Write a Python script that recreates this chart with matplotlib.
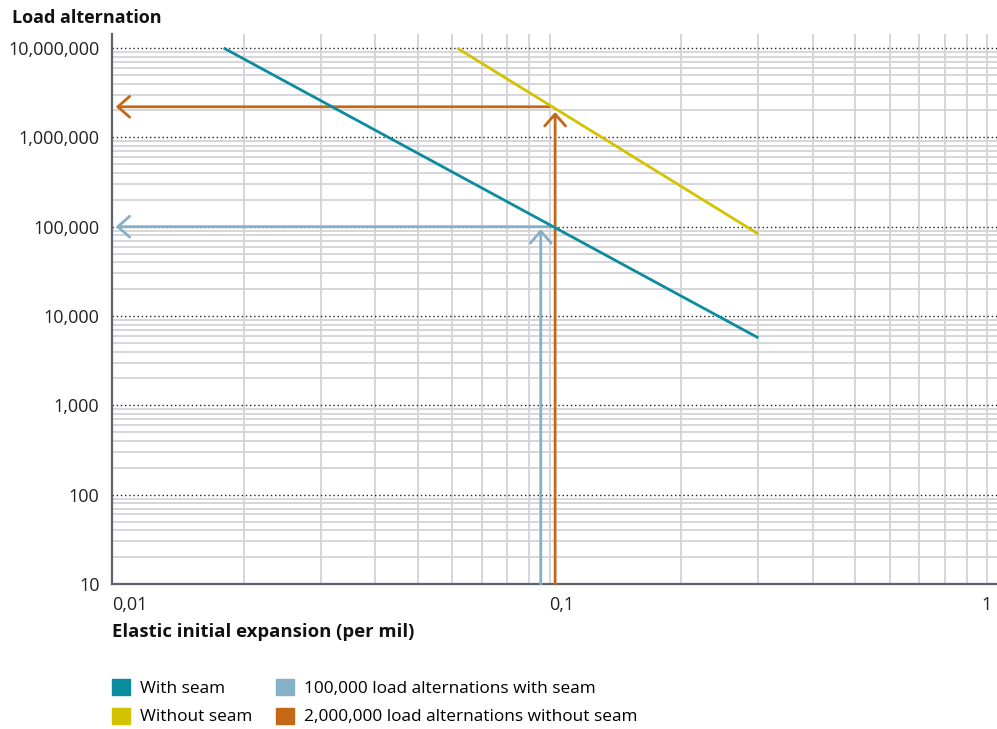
import matplotlib
matplotlib.use("Agg")
import matplotlib.pyplot as plt
from matplotlib.patches import Patch
from matplotlib.ticker import LogLocator, FixedLocator, NullFormatter

plt.rcParams['font.family'] = ['Open Sans', 'DejaVu Sans']

# lines
with_seam_x = [0.018, 0.3]
with_seam_y = [1e7, 5700]
without_seam_x = [0.0615, 0.3]
without_seam_y = [1e7, 83000]

# reading arrows
seam_read_x = 0.0955      # vertical arrow, light blue
seam_read_y = 1e5         # horizontal arrow, light blue
seam_cross_x = 0.101
seam_tip_y = 94000
noseam_read_x = 0.103     # vertical arrow, orange
noseam_read_y = 2.2e6     # horizontal arrow, orange
noseam_cross_x = 0.1
noseam_tip_y = 1.92e6
arrow_left_x = 0.0102

x_ticks = [0.01, 0.1, 1]
x_labels = ['0,01', '0,1', '1']
y_ticks = [10, 100, 1000, 10000, 100000, 1000000, 10000000]
y_labels = ['10', '100', '1,000', '10,000', '100,000', '1,000,000', '10,000,000']

teal = '#0a8c9e'
yellow = '#d4c200'
lightblue = '#86b0c8'
orange = '#c46816'
grid_gray = '#d3d3d8'
spine = '#5d6470'

W, H = 997, 729
fig = plt.figure(figsize=(W / 100, H / 100), dpi=100)
ax = fig.add_axes([112 / W, (H - 584) / H, (W - 112) / W, (584 - 34) / H])
ax.set_xscale('log')
ax.set_yscale('log')
ax.set_xlim(0.01, 1.054)
ax.set_ylim(10, 10 ** 7.157)

# grid
ax.xaxis.set_minor_locator(LogLocator(base=10, subs=range(2, 10)))
ax.yaxis.set_minor_locator(LogLocator(base=10, subs=range(2, 10)))
ax.xaxis.set_minor_formatter(NullFormatter())
ax.yaxis.set_minor_formatter(NullFormatter())
ax.grid(True, which='minor', axis='both', color=grid_gray, lw=1.3, zorder=0)
ax.grid(True, which='major', axis='x', color=grid_gray, lw=1.3, zorder=0)
ax.grid(True, which='major', axis='y', color='#222222', lw=1.0, ls=(0, (1, 2)), zorder=1)
ax.set_axisbelow(True)

ax.xaxis.set_major_locator(FixedLocator(x_ticks))
ax.set_xticklabels(x_labels)
ax.yaxis.set_major_locator(FixedLocator(y_ticks))
ax.set_yticklabels(y_labels)
ax.tick_params(axis='both', which='both', length=0, labelsize=13, colors='#222222')
ax.tick_params(axis='y', pad=9)
ax.tick_params(axis='x', pad=9)
for lab in ax.get_xticklabels():
    lab.set_ha('left')
ax.get_xticklabels()[0].set_x(0.0099)
ax.get_xticklabels()[-1].set_ha('center')

for s in ['top', 'right']:
    ax.spines[s].set_visible(False)
for s in ['left', 'bottom']:
    ax.spines[s].set_color(spine)
    ax.spines[s].set_linewidth(1.6)

# lines
ax.plot(with_seam_x, with_seam_y, color=teal, lw=2, solid_capstyle='butt', zorder=4)
ax.plot(without_seam_x, without_seam_y, color=yellow, lw=2, solid_capstyle='butt', zorder=4)


def arrow(x0, y0, x1, y1, c):
    ax.annotate('', xy=(x1, y1), xytext=(x0, y0),
                arrowprops=dict(arrowstyle='->,head_length=0.85,head_width=0.75',
                                color=c, lw=2, shrinkA=0, shrinkB=0,
                                mutation_scale=10), zorder=3)


arrow(seam_cross_x, seam_read_y, arrow_left_x, seam_read_y, lightblue)
arrow(seam_read_x, 10, seam_read_x, seam_tip_y, lightblue)
arrow(noseam_cross_x, noseam_read_y, arrow_left_x, noseam_read_y, orange)
arrow(noseam_read_x, 10, noseam_read_x, noseam_tip_y, orange)

# texts
fig.text(12 / W, 1 - 18 / H, 'Load alternation', fontsize=13, fontweight='bold',
         va='center', ha='left', color='#111111')
fig.text(112 / W, 1 - 632 / H, 'Elastic initial expansion (per mil)', fontsize=13.3,
         fontweight='bold', va='center', ha='left', color='#111111')

handles = [Patch(color=teal, label='With seam'),
           Patch(color=yellow, label='Without seam'),
           Patch(color=lightblue, label='100,000 load alternations with seam'),
           Patch(color=orange, label='2,000,000 load alternations without seam')]
fig.legend(handles=handles, ncol=2, loc='upper left',
           bbox_to_anchor=(112 / W, 1 - 679 / H), frameon=False, fontsize=12.4,
           handlelength=1.05, handleheight=1.05, handletextpad=0.6,
           columnspacing=1.35, labelspacing=0.62, borderaxespad=0, borderpad=0)

fig.savefig('out.png', dpi=100)
